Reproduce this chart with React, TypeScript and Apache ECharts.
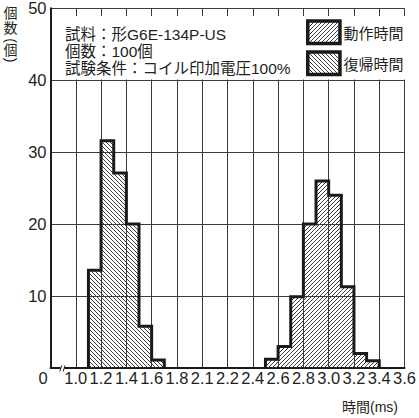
import React, { useEffect, useRef } from 'react';
import * as echarts from 'echarts';

// ---- data ----
const binWidth = 0.1;
const releaseStarts = [1.1, 1.2, 1.3, 1.4, 1.5, 1.6];
const releaseCounts = [13.6, 31.6, 27.1, 20, 5.8, 1.1];
const operateStarts = [2.5, 2.6, 2.7, 2.8, 2.9, 3.0, 3.1, 3.2, 3.3];
const operateCounts = [1.2, 3, 9.9, 20, 26, 24, 11.3, 2, 1];
const xTickValues = [0.8, 1.0, 1.2, 1.4, 1.6, 1.8, 2.0, 2.2, 2.4, 2.6, 2.8, 3.0, 3.2, 3.4, 3.6];
const xTickLabels = ['', '1.0', '1.2', '1.4', '1.6', '1.8', '2.1', '2.2', '2.4', '2.6', '2.8', '3.0', '3.2', '3.4', '3.6'];
const yTickValues = [0, 10, 20, 30, 40, 50];
const legendNames = ['動作時間', '復帰時間'];
const infoLines = ['試料：形G6E-134P-US', '個数：100個', '試験条件：コイル印加電圧100%'];

const TEXT = '#231f20';
const FONT = "'Liberation Sans', 'Noto Sans CJK JP', sans-serif";

function makeHatch(forward: boolean) {
  const c = document.createElement('canvas');
  c.width = 4;
  c.height = 4;
  const ctx = c.getContext('2d')!;
  ctx.fillStyle = '#3a3a3a';
  for (let i = 0; i < 4; i++) {
    ctx.fillRect(i, forward ? 3 - i : i, 1, 1);
  }
  return { image: c, repeat: 'repeat', imageWidth: 4, imageHeight: 4 } as any;
}

function barData(starts: number[], counts: number[]) {
  return starts.map((s, i) => [s, s + binWidth, counts[i]]);
}

function outlineData(starts: number[], counts: number[]) {
  const pts: number[][] = [[starts[0], 0]];
  starts.forEach((s, i) => pts.push([s, counts[i]]));
  const last = starts[starts.length - 1] + binWidth;
  pts.push([last, counts[counts.length - 1]]);
  pts.push([last, 0]);
  return pts;
}

export default function App() {
  const ref = useRef<HTMLDivElement>(null);
  useEffect(() => {
    if (!ref.current) return;
    const chart = echarts.init(ref.current, null, { renderer: 'svg' });
    const hatchFwd = makeHatch(true);
    const hatchBack = makeHatch(false);

    const renderBar = (fill: any) => (params: any, api: any) => {
      const x0 = api.value(0);
      const x1 = api.value(1);
      const y = api.value(2);
      const p0 = api.coord([x0, y]);
      const p1 = api.coord([x1, 0]);
      return {
        type: 'rect',
        shape: { x: p0[0], y: p0[1], width: p1[0] - p0[0], height: p1[1] - p0[1] },
        style: { fill, stroke: null },
      };
    };

    const xLabel = (v: number) => {
      const idx = xTickValues.findIndex((t) => Math.abs(t - v) < 1e-6);
      return idx >= 0 ? xTickLabels[idx] : '';
    };

    const yName = [
      { t: '個', y: 13, rot: 0 },
      { t: '数', y: 27.5, rot: 0 },
      { t: '(', y: 40.5, rot: -Math.PI / 2 },
      { t: '個', y: 50, rot: 0 },
      { t: ')', y: 60, rot: -Math.PI / 2 },
    ];

    chart.setOption({
      animation: false,
      backgroundColor: '#fff',
      textStyle: { fontFamily: FONT },
      grid: { left: 50.5, right: 6, top: 8, bottom: 50 },
      xAxis: {
        type: 'value',
        min: 0.8,
        max: 3.6,
        interval: 0.2,
        axisLine: { show: true, lineStyle: { color: '#1a1a1a', width: 2 } },
        axisTick: { show: false },
        splitLine: { show: true, lineStyle: { color: '#3c3c3c', width: 1 } },
        axisLabel: {
          formatter: xLabel,
          color: TEXT,
          fontSize: 16.5,
          fontFamily: FONT,
          margin: 2,
          showMinLabel: true,
          showMaxLabel: true,
        },
      },
      yAxis: {
        type: 'value',
        min: yTickValues[0],
        max: yTickValues[yTickValues.length - 1],
        interval: 10,
        axisLine: { show: true, lineStyle: { color: '#1a1a1a', width: 2 } },
        axisTick: { show: false },
        splitLine: { show: true, lineStyle: { color: '#3c3c3c', width: 1 } },
        axisLabel: {
          color: TEXT,
          fontSize: 16.5,
          fontFamily: FONT,
          margin: 4,
          showMinLabel: false,
        },
      },
      series: [
        {
          type: 'custom',
          name: legendNames[1],
          renderItem: renderBar(hatchBack),
          data: barData(releaseStarts, releaseCounts),
          z: 2,
        },
        {
          type: 'custom',
          name: legendNames[0],
          renderItem: renderBar(hatchFwd),
          data: barData(operateStarts, operateCounts),
          z: 2,
        },
        {
          type: 'line',
          step: 'end',
          symbol: 'none',
          data: outlineData(releaseStarts, releaseCounts),
          lineStyle: { color: '#1a1a1a', width: 3, join: 'miter' },
          z: 3,
        },
        {
          type: 'line',
          step: 'end',
          symbol: 'none',
          data: outlineData(operateStarts, operateCounts),
          lineStyle: { color: '#1a1a1a', width: 3, join: 'miter' },
          z: 3,
        },
      ],
      graphic: [
        { type: 'rect', z: 50, shape: { x: 52, y: 16, width: 360, height: 63.5 }, style: { fill: '#fff' } },
        ...infoLines.map((t, i) => ({
          type: 'text', z: 51, x: 65, y: 34 + i * 17,
          style: { text: t, fill: TEXT, font: `15.5px ${FONT}`, textVerticalAlign: 'middle' },
        })),
        { type: 'rect', z: 51, shape: { x: 307.75, y: 21, width: 32.2, height: 22.5 }, style: { fill: hatchFwd, stroke: '#1a1a1a', lineWidth: 3.5 } },
        { type: 'rect', z: 51, shape: { x: 307.75, y: 52, width: 32.2, height: 22.5 }, style: { fill: hatchBack, stroke: '#1a1a1a', lineWidth: 3.5 } },
        { type: 'text', z: 51, x: 343.5, y: 33, style: { text: legendNames[0], fill: TEXT, font: `15px ${FONT}`, textVerticalAlign: 'middle' } },
        { type: 'text', z: 51, x: 343.5, y: 64, style: { text: legendNames[1], fill: TEXT, font: `15px ${FONT}`, textVerticalAlign: 'middle' } },
        ...yName.map((c) => ({
          type: 'text', z: 51, x: 10.5, y: c.y, rotation: c.rot,
          style: { text: c.t, fill: TEXT, font: `14px ${FONT}`, textAlign: 'center', textVerticalAlign: 'middle' },
        })),
        { type: 'text', z: 51, x: 43, y: 378, style: { text: '0', fill: TEXT, font: `16.5px ${FONT}`, textAlign: 'center', textVerticalAlign: 'middle' } },
        { type: 'text', z: 51, x: 342, y: 407, style: { text: '時間(ms)', fill: TEXT, font: `14px ${FONT}`, textVerticalAlign: 'middle' } },
        { type: 'rect', z: 60, shape: { x: 60.5, y: 365, width: 4, height: 7 }, style: { fill: '#fff' } },
        { type: 'line', z: 61, shape: { x1: 59.8, y1: 371.5, x2: 61.6, y2: 365.5 }, style: { stroke: '#1a1a1a', lineWidth: 1 } },
        { type: 'line', z: 61, shape: { x1: 63.2, y1: 371.5, x2: 65, y2: 365.5 }, style: { stroke: '#1a1a1a', lineWidth: 1 } },
      ],
    });
    return () => chart.dispose();
  }, []);
  return <div ref={ref} style={{ position: 'fixed', left: 0, top: 0, width: 419, height: 418 }} />;
}
